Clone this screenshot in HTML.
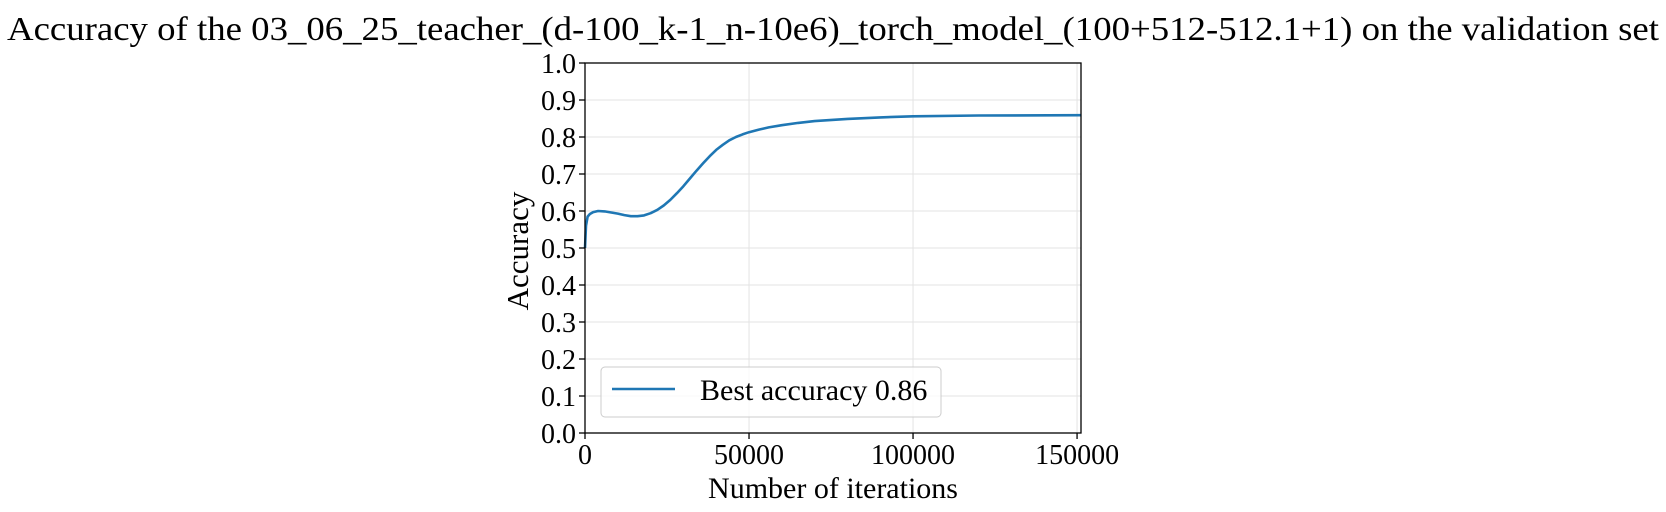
<!DOCTYPE html>
<html><head><meta charset="utf-8"><style>body{margin:0;background:#fff}svg{display:block;font-family:"Liberation Serif",serif}</style></head>
<body>
<svg id="chart" width="1666" height="512">
<text x="833" y="40" font-size="34" text-anchor="middle" textLength="1652" lengthAdjust="spacingAndGlyphs">Accuracy of the 03_06_25_teacher_(d-100_k-1_n-10e6)_torch_model_(100+512-512.1+1) on the validation set</text>
<g id="grid"></g><g id="series"></g><g id="axes"></g>
</svg>
<script>
const xTicks=[0,50000,100000,150000];
const yTicks=[0,0.1,0.2,0.3,0.4,0.5,0.6,0.7,0.8,0.9,1.0];
const iters=[0,300,800,1500,2500,4000,6000,8000,10000,12000,14000,16000,18000,20000,22000,24000,26000,28000,30000,32000,34000,36000,38000,40000,42000,44000,46000,48000,50000,53000,56000,60000,65000,70000,80000,90000,100000,120000,151200];
const acc=[0.5,0.56,0.585,0.592,0.597,0.600,0.599,0.596,0.593,0.589,0.586,0.586,0.588,0.594,0.603,0.615,0.630,0.648,0.667,0.688,0.709,0.729,0.748,0.765,0.779,0.791,0.800,0.807,0.813,0.820,0.826,0.832,0.838,0.843,0.849,0.853,0.856,0.858,0.859];
const X0=585,X1=1081,Y0=433,Y1=63,XMAX=151200;
const sx=v=>X0+(X1-X0)*v/XMAX, sy=v=>Y0-(Y0-Y1)*v;
const NS="http://www.w3.org/2000/svg";
function mk(tag,at,parent,txt){const e=document.createElementNS(NS,tag);for(const k in at)e.setAttribute(k,at[k]);if(txt!==undefined)e.textContent=txt;document.getElementById(parent).appendChild(e);return e;}
xTicks.forEach(t=>{
 let g=mk('line',{x1:sx(t),x2:sx(t),y1:Y1,y2:Y0,stroke:'#e3e3e3','stroke-width':1},'grid');
 
 
 let k=mk('line',{x1:sx(t),x2:sx(t),y1:Y0,y2:Y0+6,stroke:'#000','stroke-width':1.3},'axes');
 
 
 let l=mk('text',{x:sx(t),y:464,'font-size':28,'text-anchor':'middle'},'axes',String(t));
 
 
});
yTicks.forEach(t=>{
 let g=mk('line',{x1:X0,x2:X1,y1:sy(t),y2:sy(t),stroke:'#e3e3e3','stroke-width':1},'grid');
 
 
 let k=mk('line',{x1:X0-6,x2:X0,y1:sy(t),y2:sy(t),stroke:'#000','stroke-width':1.3},'axes');
 
 
 let l=mk('text',{x:X0-9,y:sy(t)+10,'font-size':28,'text-anchor':'end'},'axes',t.toFixed(1));
 
 
});
let fr=mk('rect',{x:X0,y:Y1,width:X1-X0,height:Y0-Y1,fill:'none',stroke:'#000','stroke-width':1.3},'axes');


let d=iters.map((v,i)=>(i?'L':'M')+sx(v).toFixed(1)+','+sy(acc[i]).toFixed(1)).join('');
let p=mk('path',{d:d,fill:'none',stroke:'#1f77b4','stroke-width':2.6,'stroke-linejoin':'round'},'series');


let xl=mk('text',{x:833,y:498,'font-size':30,'text-anchor':'middle'},'axes','Number of iterations');


let yl=mk('text',{x:0,y:0,'font-size':31,'text-anchor':'middle',transform:'translate(528,251) rotate(-90)'},'axes','Accuracy');


let lb=mk('rect',{x:601,y:367,width:340,height:50,rx:4,fill:'#fff','fill-opacity':0.8,stroke:'#ccc','stroke-width':1},'axes');


let ll=mk('line',{x1:612,x2:675,y1:389,y2:389,stroke:'#1f77b4','stroke-width':2.6},'axes');


let lt=mk('text',{x:700,y:400,'font-size':30},'axes','Best accuracy 0.86');


</script>
</body></html>
